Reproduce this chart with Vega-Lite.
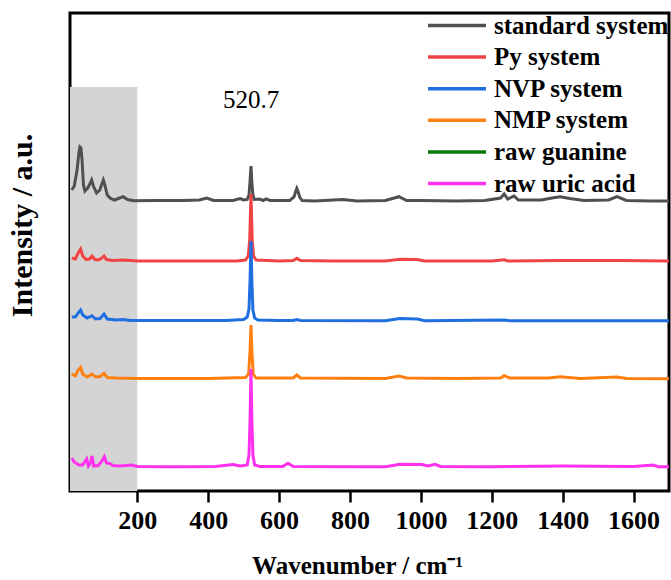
{
  "$schema": "https://vega.github.io/schema/vega-lite/v6.json",
  "autosize": "none",
  "width": 599,
  "height": 478,
  "padding": {"left": 70, "top": 13, "right": 2, "bottom": 89},
  "background": "white",
  "config": {
    "view": {"stroke": "black", "strokeWidth": 3},
    "font": "Liberation Serif"
  },
  "datasets": {
    "spectra": [
      {"series":"standard system","wavenumber":15,"intensity":301},{"series":"standard system","wavenumber":22,"intensity":305},{"series":"standard system","wavenumber":30,"intensity":321},{"series":"standard system","wavenumber":35,"intensity":338},{"series":"standard system","wavenumber":38,"intensity":344},{"series":"standard system","wavenumber":41,"intensity":343},{"series":"standard system","wavenumber":44,"intensity":331},{"series":"standard system","wavenumber":48,"intensity":306},{"series":"standard system","wavenumber":52,"intensity":300},{"series":"standard system","wavenumber":60,"intensity":303},{"series":"standard system","wavenumber":66,"intensity":307},{"series":"standard system","wavenumber":71,"intensity":311},{"series":"standard system","wavenumber":76,"intensity":305},{"series":"standard system","wavenumber":85,"intensity":298},{"series":"standard system","wavenumber":94,"intensity":301},{"series":"standard system","wavenumber":100,"intensity":307},{"series":"standard system","wavenumber":104,"intensity":311},{"series":"standard system","wavenumber":109,"intensity":305},{"series":"standard system","wavenumber":115,"intensity":296},{"series":"standard system","wavenumber":123,"intensity":293},{"series":"standard system","wavenumber":135,"intensity":291},{"series":"standard system","wavenumber":150,"intensity":293},{"series":"standard system","wavenumber":160,"intensity":294.3},{"series":"standard system","wavenumber":172,"intensity":291.5},{"series":"standard system","wavenumber":190,"intensity":290.3},{"series":"standard system","wavenumber":250,"intensity":290.5},{"series":"standard system","wavenumber":330,"intensity":290.5},{"series":"standard system","wavenumber":375,"intensity":291},{"series":"standard system","wavenumber":396,"intensity":293},{"series":"standard system","wavenumber":415,"intensity":290.5},{"series":"standard system","wavenumber":470,"intensity":290.5},{"series":"standard system","wavenumber":490,"intensity":292.5},{"series":"standard system","wavenumber":500,"intensity":291},{"series":"standard system","wavenumber":510,"intensity":291.5},{"series":"standard system","wavenumber":515,"intensity":296},{"series":"standard system","wavenumber":518,"intensity":310},{"series":"standard system","wavenumber":520.7,"intensity":325},{"series":"standard system","wavenumber":523,"intensity":309},{"series":"standard system","wavenumber":526,"intensity":296},{"series":"standard system","wavenumber":530,"intensity":291.5},{"series":"standard system","wavenumber":545,"intensity":292},{"series":"standard system","wavenumber":555,"intensity":290.5},{"series":"standard system","wavenumber":563,"intensity":292},{"series":"standard system","wavenumber":575,"intensity":290.5},{"series":"standard system","wavenumber":630,"intensity":290.5},{"series":"standard system","wavenumber":642,"intensity":294},{"series":"standard system","wavenumber":647,"intensity":300},{"series":"standard system","wavenumber":650,"intensity":302.7},{"series":"standard system","wavenumber":653,"intensity":300},{"series":"standard system","wavenumber":658,"intensity":294},{"series":"standard system","wavenumber":665,"intensity":290.5},{"series":"standard system","wavenumber":700,"intensity":290},{"series":"standard system","wavenumber":780,"intensity":291.5},{"series":"standard system","wavenumber":820,"intensity":290},{"series":"standard system","wavenumber":900,"intensity":290.5},{"series":"standard system","wavenumber":938,"intensity":294.3},{"series":"standard system","wavenumber":960,"intensity":290.5},{"series":"standard system","wavenumber":1000,"intensity":290.5},{"series":"standard system","wavenumber":1100,"intensity":290},{"series":"standard system","wavenumber":1180,"intensity":290.5},{"series":"standard system","wavenumber":1225,"intensity":293},{"series":"standard system","wavenumber":1235,"intensity":297},{"series":"standard system","wavenumber":1245,"intensity":292},{"series":"standard system","wavenumber":1263,"intensity":295},{"series":"standard system","wavenumber":1275,"intensity":291},{"series":"standard system","wavenumber":1340,"intensity":291},{"series":"standard system","wavenumber":1370,"intensity":293},{"series":"standard system","wavenumber":1393,"intensity":294.3},{"series":"standard system","wavenumber":1420,"intensity":292.5},{"series":"standard system","wavenumber":1460,"intensity":290.5},{"series":"standard system","wavenumber":1530,"intensity":291},{"series":"standard system","wavenumber":1553,"intensity":294.3},{"series":"standard system","wavenumber":1580,"intensity":290.5},{"series":"standard system","wavenumber":1650,"intensity":290},{"series":"standard system","wavenumber":1700,"intensity":290},

      {"series":"Py system","wavenumber":15,"intensity":233},{"series":"Py system","wavenumber":25,"intensity":232},{"series":"Py system","wavenumber":33,"intensity":238},{"series":"Py system","wavenumber":40,"intensity":242},{"series":"Py system","wavenumber":46,"intensity":235},{"series":"Py system","wavenumber":55,"intensity":231.5},{"series":"Py system","wavenumber":65,"intensity":232},{"series":"Py system","wavenumber":72,"intensity":235},{"series":"Py system","wavenumber":80,"intensity":231.5},{"series":"Py system","wavenumber":90,"intensity":231},{"series":"Py system","wavenumber":100,"intensity":233},{"series":"Py system","wavenumber":106,"intensity":235},{"series":"Py system","wavenumber":113,"intensity":231.5},{"series":"Py system","wavenumber":130,"intensity":230.5},{"series":"Py system","wavenumber":160,"intensity":231},{"series":"Py system","wavenumber":200,"intensity":230},{"series":"Py system","wavenumber":300,"intensity":230},{"series":"Py system","wavenumber":400,"intensity":230},{"series":"Py system","wavenumber":480,"intensity":230},{"series":"Py system","wavenumber":505,"intensity":231},{"series":"Py system","wavenumber":513,"intensity":235},{"series":"Py system","wavenumber":517,"intensity":251},{"series":"Py system","wavenumber":520.7,"intensity":297},{"series":"Py system","wavenumber":524,"intensity":251},{"series":"Py system","wavenumber":528,"intensity":235},{"series":"Py system","wavenumber":535,"intensity":231},{"series":"Py system","wavenumber":600,"intensity":230},{"series":"Py system","wavenumber":640,"intensity":230.5},{"series":"Py system","wavenumber":650,"intensity":232.7},{"series":"Py system","wavenumber":660,"intensity":230.5},{"series":"Py system","wavenumber":750,"intensity":230},{"series":"Py system","wavenumber":900,"intensity":230},{"series":"Py system","wavenumber":941,"intensity":231.7},{"series":"Py system","wavenumber":989,"intensity":231.5},{"series":"Py system","wavenumber":1010,"intensity":230},{"series":"Py system","wavenumber":1200,"intensity":230},{"series":"Py system","wavenumber":1235,"intensity":231.3},{"series":"Py system","wavenumber":1245,"intensity":230},{"series":"Py system","wavenumber":1400,"intensity":230.5},{"series":"Py system","wavenumber":1560,"intensity":230.5},{"series":"Py system","wavenumber":1700,"intensity":230},

      {"series":"NVP system","wavenumber":15,"intensity":174},{"series":"NVP system","wavenumber":25,"intensity":174},{"series":"NVP system","wavenumber":33,"intensity":178},{"series":"NVP system","wavenumber":40,"intensity":181},{"series":"NVP system","wavenumber":46,"intensity":176},{"series":"NVP system","wavenumber":58,"intensity":173},{"series":"NVP system","wavenumber":72,"intensity":175.3},{"series":"NVP system","wavenumber":82,"intensity":172},{"series":"NVP system","wavenumber":95,"intensity":172.5},{"series":"NVP system","wavenumber":106,"intensity":177},{"series":"NVP system","wavenumber":115,"intensity":172},{"series":"NVP system","wavenumber":140,"intensity":171},{"series":"NVP system","wavenumber":160,"intensity":171.5},{"series":"NVP system","wavenumber":180,"intensity":170.5},{"series":"NVP system","wavenumber":300,"intensity":170.5},{"series":"NVP system","wavenumber":450,"intensity":170.5},{"series":"NVP system","wavenumber":500,"intensity":171.5},{"series":"NVP system","wavenumber":510,"intensity":174},{"series":"NVP system","wavenumber":515,"intensity":182},{"series":"NVP system","wavenumber":518,"intensity":211},{"series":"NVP system","wavenumber":520.7,"intensity":250},{"series":"NVP system","wavenumber":523,"intensity":211},{"series":"NVP system","wavenumber":526,"intensity":181},{"series":"NVP system","wavenumber":531,"intensity":173},{"series":"NVP system","wavenumber":540,"intensity":171},{"series":"NVP system","wavenumber":600,"intensity":170.5},{"series":"NVP system","wavenumber":640,"intensity":170.5},{"series":"NVP system","wavenumber":650,"intensity":171.5},{"series":"NVP system","wavenumber":660,"intensity":170.5},{"series":"NVP system","wavenumber":900,"intensity":170.3},{"series":"NVP system","wavenumber":940,"intensity":172.5},{"series":"NVP system","wavenumber":990,"intensity":172},{"series":"NVP system","wavenumber":1010,"intensity":170.3},{"series":"NVP system","wavenumber":1235,"intensity":171},{"series":"NVP system","wavenumber":1250,"intensity":170.3},{"series":"NVP system","wavenumber":1700,"intensity":170.3},

      {"series":"NMP system","wavenumber":15,"intensity":117},{"series":"NMP system","wavenumber":25,"intensity":115},{"series":"NMP system","wavenumber":33,"intensity":121},{"series":"NMP system","wavenumber":40,"intensity":123.7},{"series":"NMP system","wavenumber":46,"intensity":117},{"series":"NMP system","wavenumber":58,"intensity":114},{"series":"NMP system","wavenumber":72,"intensity":117},{"series":"NMP system","wavenumber":82,"intensity":114},{"series":"NMP system","wavenumber":95,"intensity":114.5},{"series":"NMP system","wavenumber":106,"intensity":117.7},{"series":"NMP system","wavenumber":115,"intensity":113.5},{"series":"NMP system","wavenumber":140,"intensity":113},{"series":"NMP system","wavenumber":200,"intensity":112.5},{"series":"NMP system","wavenumber":400,"intensity":112.5},{"series":"NMP system","wavenumber":505,"intensity":113.5},{"series":"NMP system","wavenumber":514,"intensity":117},{"series":"NMP system","wavenumber":518,"intensity":141},{"series":"NMP system","wavenumber":520.7,"intensity":166},{"series":"NMP system","wavenumber":523,"intensity":141},{"series":"NMP system","wavenumber":527,"intensity":117},{"series":"NMP system","wavenumber":535,"intensity":113},{"series":"NMP system","wavenumber":640,"intensity":113},{"series":"NMP system","wavenumber":650,"intensity":116},{"series":"NMP system","wavenumber":660,"intensity":113},{"series":"NMP system","wavenumber":900,"intensity":112.5},{"series":"NMP system","wavenumber":938,"intensity":115},{"series":"NMP system","wavenumber":960,"intensity":113},{"series":"NMP system","wavenumber":1100,"intensity":112.5},{"series":"NMP system","wavenumber":1225,"intensity":113},{"series":"NMP system","wavenumber":1235,"intensity":115.3},{"series":"NMP system","wavenumber":1250,"intensity":113},{"series":"NMP system","wavenumber":1360,"intensity":113},{"series":"NMP system","wavenumber":1393,"intensity":114.3},{"series":"NMP system","wavenumber":1450,"intensity":112.5},{"series":"NMP system","wavenumber":1553,"intensity":114},{"series":"NMP system","wavenumber":1580,"intensity":112.5},{"series":"NMP system","wavenumber":1700,"intensity":112.3},

      {"series":"raw uric acid","wavenumber":15,"intensity":33},{"series":"raw uric acid","wavenumber":22,"intensity":29},{"series":"raw uric acid","wavenumber":35,"intensity":26},{"series":"raw uric acid","wavenumber":45,"intensity":26},{"series":"raw uric acid","wavenumber":52,"intensity":29},{"series":"raw uric acid","wavenumber":57,"intensity":32},{"series":"raw uric acid","wavenumber":62,"intensity":25},{"series":"raw uric acid","wavenumber":68,"intensity":28},{"series":"raw uric acid","wavenumber":72,"intensity":35},{"series":"raw uric acid","wavenumber":77,"intensity":25},{"series":"raw uric acid","wavenumber":90,"intensity":25.5},{"series":"raw uric acid","wavenumber":100,"intensity":30},{"series":"raw uric acid","wavenumber":107,"intensity":34.3},{"series":"raw uric acid","wavenumber":113,"intensity":28},{"series":"raw uric acid","wavenumber":122,"intensity":27.5},{"series":"raw uric acid","wavenumber":131,"intensity":25.5},{"series":"raw uric acid","wavenumber":150,"intensity":25},{"series":"raw uric acid","wavenumber":184,"intensity":26},{"series":"raw uric acid","wavenumber":200,"intensity":24.5},{"series":"raw uric acid","wavenumber":300,"intensity":24.3},{"series":"raw uric acid","wavenumber":420,"intensity":24.5},{"series":"raw uric acid","wavenumber":470,"intensity":26.5},{"series":"raw uric acid","wavenumber":490,"intensity":25},{"series":"raw uric acid","wavenumber":510,"intensity":26},{"series":"raw uric acid","wavenumber":515,"intensity":36},{"series":"raw uric acid","wavenumber":518,"intensity":71},{"series":"raw uric acid","wavenumber":520.7,"intensity":122},{"series":"raw uric acid","wavenumber":523,"intensity":71},{"series":"raw uric acid","wavenumber":526,"intensity":36},{"series":"raw uric acid","wavenumber":531,"intensity":26},{"series":"raw uric acid","wavenumber":545,"intensity":24.5},{"series":"raw uric acid","wavenumber":610,"intensity":24.5},{"series":"raw uric acid","wavenumber":625,"intensity":27.7},{"series":"raw uric acid","wavenumber":640,"intensity":24.5},{"series":"raw uric acid","wavenumber":900,"intensity":24.3},{"series":"raw uric acid","wavenumber":941,"intensity":26.7},{"series":"raw uric acid","wavenumber":1003,"intensity":26.5},{"series":"raw uric acid","wavenumber":1020,"intensity":25},{"series":"raw uric acid","wavenumber":1040,"intensity":26.7},{"series":"raw uric acid","wavenumber":1055,"intensity":24.5},{"series":"raw uric acid","wavenumber":1200,"intensity":24.3},{"series":"raw uric acid","wavenumber":1400,"intensity":25},{"series":"raw uric acid","wavenumber":1600,"intensity":24.5},{"series":"raw uric acid","wavenumber":1655,"intensity":26},{"series":"raw uric acid","wavenumber":1670,"intensity":24.3},{"series":"raw uric acid","wavenumber":1700,"intensity":24.3}
    ]
  },
  "layer": [
    {
      "data": {"values": [{"start": 10, "end": 200, "low": 0, "high": 404}]},
      "mark": {"type": "rect", "color": "#d4d4d4"},
      "encoding": {
        "x": {"field": "start", "type": "quantitative", "scale": {"domain": [10, 1700], "nice": false, "zero": false}},
        "x2": {"field": "end"},
        "y": {"field": "low", "type": "quantitative", "scale": {"domain": [0, 478], "nice": false, "zero": false}},
        "y2": {"field": "high"}
      }
    },
    {
      "data": {"name": "spectra"},
      "mark": {"type": "line", "strokeWidth": 3, "clip": true},
      "encoding": {
        "x": {
          "field": "wavenumber", "type": "quantitative",
          "scale": {"domain": [10, 1700], "nice": false, "zero": false},
          "axis": {
            "title": "Wavenumber / cm⁻¹",
            "format": "d",
            "values": [200, 400, 600, 800, 1000, 1200, 1400, 1600],
            "domain": false, "grid": false,
            "ticks": true, "tickColor": "black", "tickWidth": 2.5, "tickSize": 11,
            "labelFont": "Liberation Serif", "labelFontWeight": "bold", "labelFontSize": 26, "labelColor": "black", "labelPadding": 5,
            "titleFont": "Liberation Serif", "titleFontWeight": "bold", "titleFontSize": 25, "titleColor": "black", "titlePadding": 20,
            "titleX": 287
          }
        },
        "y": {
          "field": "intensity", "type": "quantitative",
          "scale": {"domain": [0, 478], "nice": false, "zero": false},
          "axis": {
            "title": "Intensity / a.u.",
            "labels": false, "ticks": false, "domain": false, "grid": false,
            "titleFont": "Liberation Serif", "titleFontWeight": "bold", "titleFontSize": 30, "titleColor": "black", "titlePadding": 33,
            "titleY": 212
          }
        },
        "color": {
          "field": "series", "type": "nominal",
          "scale": {
            "domain": ["standard system", "Py system", "NVP system", "NMP system", "raw guanine", "raw uric acid"],
            "range": ["#505050", "#f04444", "#1f6fe0", "#ff8010", "#0a7a0a", "#ff30ee"]
          },
          "legend": {
            "title": null,
            "orient": "none",
            "legendX": 356,
            "legendY": 0,
            "padding": 0,
            "symbolType": "stroke",
            "symbolSize": 3364,
            "symbolStrokeWidth": 3.5,
            "clipHeight": 25,
            "rowPadding": 5.6,
            "labelOffset": 6,
            "labelLimit": 400,
            "labelFont": "Liberation Serif", "labelFontWeight": "bold", "labelFontSize": 25, "labelColor": "black"
          }
        },
        "order": {"field": "wavenumber", "type": "quantitative"}
      }
    },
    {
      "data": {"values": [{"wavenumber": 520.7, "intensity": 391, "label": "520.7"}]},
      "mark": {"type": "text", "font": "Liberation Serif", "fontSize": 25, "color": "black", "baseline": "middle", "align": "center"},
      "encoding": {
        "x": {"field": "wavenumber", "type": "quantitative"},
        "y": {"field": "intensity", "type": "quantitative"},
        "text": {"field": "label"}
      }
    }
  ]
}
